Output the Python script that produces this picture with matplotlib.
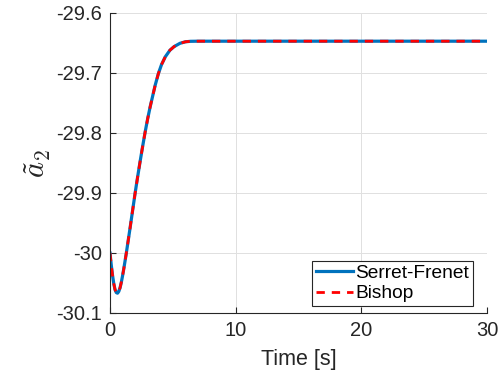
import matplotlib.pyplot as plt

plt.rcParams['font.family'] = ['Liberation Sans', 'DejaVu Sans']
plt.rcParams['mathtext.fontset'] = 'cm'

# values
t = [0, 0.1, 0.2, 0.3, 0.4, 0.5, 0.6, 0.7, 0.8, 0.9, 1.0, 1.1, 1.2, 1.3,
     1.45, 1.6, 1.8, 2.0, 2.2, 2.4, 2.6, 2.8, 3.0, 3.2, 3.4, 3.6, 3.85,
     4.1, 4.4, 4.77, 5.1, 5.57, 6.0, 6.4, 7.0, 8.0, 10.0, 30.0]
a2_sf = [-30.000, -30.020, -30.037, -30.051, -30.061, -30.066, -30.067,
         -30.064, -30.058, -30.049, -30.038, -30.026, -30.013, -30.000,
         -29.979, -29.958, -29.929, -29.900, -29.873, -29.847, -29.822,
         -29.798, -29.776, -29.756, -29.738, -29.720, -29.701, -29.686,
         -29.673, -29.662, -29.656, -29.6505, -29.648, -29.6472, -29.647,
         -29.647, -29.647, -29.647]
a2_bishop = list(a2_sf)

xticks = [0, 10, 20, 30]
yticks = [-30.1, -30.0, -29.9, -29.8, -29.7, -29.6]
yticklabels = ['-30.1', '-30', '-29.9', '-29.8', '-29.7', '-29.6']

fig = plt.figure(figsize=(5.03, 3.81), dpi=100)
ax = fig.add_axes([110 / 503, 1 - 313 / 381, 377 / 503, 300 / 381])

ax.plot(t, a2_sf, color=(0, 0.447, 0.741), lw=2.3, label='Serret-Frenet')
ax.plot(t, a2_bishop, color='red', lw=2.0, ls=(0, (3, 2.5)), label='Bishop')

ax.set_xlim(0, 30)
ax.set_ylim(-30.1, -29.6)
ax.set_xticks(xticks)
ax.set_yticks(yticks)
ax.set_yticklabels(yticklabels)
ax.tick_params(direction='in', labelsize=14.5, colors='0.15', length=4, width=0.8, pad=6)
ax.grid(True, color='0.88', lw=0.7)
for s in ['top', 'right']:
    ax.spines[s].set_visible(False)
for s in ['left', 'bottom']:
    ax.spines[s].set_color('0.15')
    ax.spines[s].set_linewidth(0.8)

ax.set_xlabel('Time [s]', fontsize=15.5, color='0.15', labelpad=6)
ax.set_ylabel(r'$\tilde{a}_2$', fontsize=22, color='0.15', labelpad=2)

leg = ax.legend(loc='lower right', bbox_to_anchor=(0.963, 0.023), borderaxespad=0,
                fontsize=13.8, frameon=True, fancybox=False,
                edgecolor='0.15', framealpha=1, handlelength=1.9,
                handletextpad=0.15, borderpad=0.2, labelspacing=0.15)
leg.get_frame().set_linewidth(0.8)

fig.savefig('out.png', dpi=100)
